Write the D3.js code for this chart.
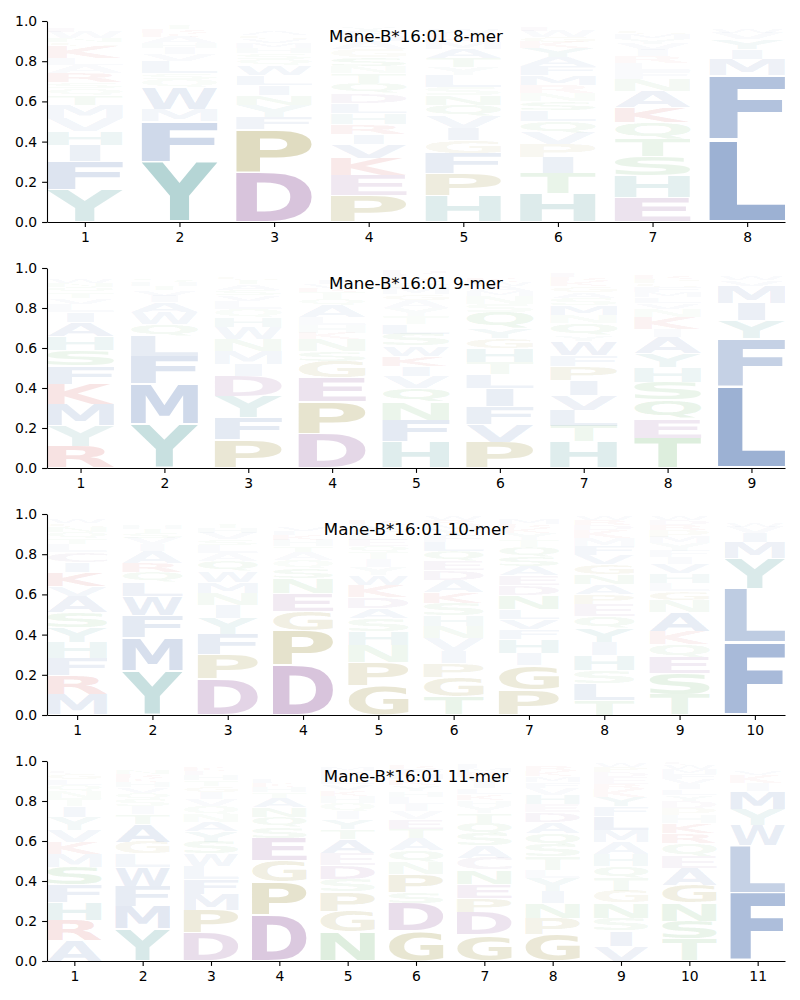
<!DOCTYPE html>
<html><head><meta charset="utf-8">
<script src="https://cdn.jsdelivr.net/npm/d3@7"></script>
<style>body{margin:0;background:#fff}</style>
</head><body>
<svg id="chart" width="800" height="1000"></svg>
<script>
// ---------- data (bottom -> top stacking order, frequency) ----------
const titles = ["Mane-B*16:01 8-mer", "Mane-B*16:01 9-mer", "Mane-B*16:01 10-mer", "Mane-B*16:01 11-mer"];
const yTicks = [0.0, 0.2, 0.4, 0.6, 0.8, 1.0];

const mer8 = [
 [["Y",.16],["F",.14],["I",.08],["H",.07],["V",.065],["M",.065],["T",.05],["Q",.035],["S",.03],["R",.045],["A",.04],["L",.035],["K",.06],["G",.02],["N",.02],["W",.03],["E",.02],["C",.015],["D",.01],["P",.01]],
 [["Y",.30],["F",.20],["M",.06],["W",.11],["Q",.04],["S",.03],["L",.06],["V",.035],["I",.03],["H",.025],["A",.03],["K",.02],["R",.02],["T",.02],["N",.01],["E",.01]],
 [["D",.25],["P",.21],["F",.06],["Y",.06],["N",.05],["I",.05],["L",.05],["W",.05],["Q",.03],["S",.03],["H",.025],["M",.025],["V",.02],["G",.02],["A",.02],["K",.01],["R",.01],["T",.01],["E",.01],["C",.01]],
 [["P",.13],["E",.10],["K",.085],["V",.07],["I",.05],["R",.05],["H",.055],["L",.05],["D",.05],["Q",.05],["T",.05],["N",.035],["S",.045],["G",.04],["A",.04],["M",.025],["F",.025],["Y",.02],["W",.015],["C",.015]],
 [["H",.13],["P",.11],["F",.10],["G",.065],["I",.06],["V",.06],["Q",.055],["N",.05],["S",.04],["L",.06],["Y",.04],["T",.045],["A",.045],["M",.035],["K",.025],["R",.02],["W",.02],["E",.015],["D",.015],["C",.01]],
 [["H",.14],["T",.10],["I",.08],["P",.065],["V",.06],["Q",.055],["L",.055],["S",.045],["N",.04],["R",.04],["M",.05],["F",.045],["A",.045],["Y",.045],["K",.03],["G",.025],["W",.03],["E",.02],["D",.015],["C",.01]],
 [["E",.12],["H",.11],["S",.095],["T",.09],["Q",.08],["K",.075],["A",.08],["N",.06],["F",.04],["L",.04],["R",.035],["I",.03],["V",.03],["Y",.025],["M",.025],["G",.02],["P",.015],["D",.015],["W",.01],["C",.005]],
 [["L",.41],["F",.32],["M",.08],["I",.05],["Y",.05],["V",.03],["W",.02],["H",.015],["A",.015],["K",.01]]
];

const mer9 = [
 [["R",.11],["Y",.10],["M",.11],["K",.10],["F",.09],["S",.08],["H",.07],["A",.07],["I",.05],["L",.04],["V",.03],["T",.03],["Q",.025],["N",.02],["W",.02],["G",.015],["E",.015],["D",.01],["P",.01],["C",.005]],
 [["Y",.22],["M",.20],["F",.14],["L",.10],["Q",.06],["W",.06],["A",.05],["I",.03],["V",.03],["T",.02],["H",.02],["S",.02],["K",.01],["R",.01],["N",.01],["G",.01],["E",.005],["D",.005]],
 [["P",.14],["F",.11],["Y",.11],["D",.10],["I",.06],["M",.065],["N",.06],["W",.06],["H",.05],["Q",.04],["L",.04],["V",.03],["S",.025],["A",.03],["T",.02],["G",.02],["E",.015],["K",.01],["R",.01],["C",.005]],
 [["D",.17],["P",.16],["E",.12],["G",.085],["S",.05],["N",.06],["K",.03],["H",.04],["L",.04],["A",.06],["Q",.03],["T",.035],["R",.02],["V",.02],["I",.02],["M",.015],["F",.015],["Y",.01],["W",.01],["C",.01]],
 [["H",.13],["F",.11],["N",.09],["Q",.07],["V",.06],["I",.05],["K",.05],["W",.05],["S",.06],["L",.05],["T",.04],["Y",.04],["A",.04],["G",.03],["M",.03],["P",.03],["R",.02],["E",.02],["D",.02],["C",.01]],
 [["P",.13],["V",.09],["F",.09],["I",.09],["L",.07],["T",.06],["H",.07],["G",.05],["Y",.05],["Q",.08],["S",.04],["N",.04],["M",.025],["A",.025],["W",.02],["K",.02],["R",.015],["E",.015],["D",.01],["C",.01]],
 [["H",.13],["T",.08],["L",.08],["V",.075],["I",.075],["P",.07],["F",.055],["W",.07],["Y",.03],["Q",.06],["N",.04],["M",.05],["S",.035],["A",.03],["G",.03],["K",.025],["R",.02],["E",.02],["D",.015],["C",.01]],
 [["T",.15],["E",.095],["Q",.095],["S",.09],["H",.075],["Y",.07],["A",.08],["I",.04],["K",.06],["N",.04],["V",.03],["L",.03],["M",.025],["F",.025],["G",.02],["P",.02],["R",.02],["D",.015],["W",.01],["C",.01]],
 [["L",.41],["F",.24],["Y",.09],["I",.085],["M",.085],["V",.03],["W",.02],["H",.015],["A",.015],["K",.01]]
];

const mer10 = [
 [["M",.10],["R",.095],["F",.085],["H",.08],["Y",.075],["S",.075],["A",.08],["V",.05],["K",.07],["I",.05],["C",.05],["L",.04],["T",.03],["Q",.03],["N",.025],["G",.02],["W",.02],["E",.015],["D",.005],["P",.005]],
 [["Y",.22],["M",.165],["F",.11],["W",.095],["L",.07],["Q",.05],["R",.045],["A",.06],["I",.035],["V",.03],["S",.025],["T",.02],["H",.02],["K",.015],["N",.01],["G",.01],["E",.01],["D",.005],["P",.005]],
 [["D",.18],["P",.12],["F",.10],["Y",.08],["I",.065],["N",.06],["M",.055],["W",.055],["Q",.05],["A",.04],["L",.04],["S",.03],["V",.03],["H",.025],["T",.02],["G",.015],["E",.015],["K",.01],["R",.01]],
 [["D",.25],["P",.17],["G",.095],["E",.09],["N",.075],["S",.05],["Q",.04],["A",.04],["T",.03],["H",.03],["K",.025],["L",.02],["V",.02],["I",.015],["Y",.015],["M",.01],["F",.01],["R",.01],["W",.005]],
 [["G",.145],["P",.115],["N",.085],["H",.07],["S",.065],["A",.05],["D",.055],["K",.06],["W",.05],["Y",.04],["I",.04],["T",.035],["Q",.03],["E",.03],["L",.03],["F",.025],["V",.025],["R",.02],["M",.015],["C",.015]],
 [["T",.09],["G",.095],["P",.07],["I",.06],["V",.065],["N",.06],["H",.055],["S",.06],["K",.055],["A",.06],["D",.05],["E",.05],["Q",.045],["L",.045],["F",.03],["Y",.03],["M",.025],["R",.025],["W",.02],["C",.01]],
 [["P",.125],["G",.12],["I",.06],["H",.07],["F",.05],["V",.05],["L",.05],["N",.07],["D",.05],["E",.05],["A",.045],["S",.05],["Q",.045],["T",.035],["Y",.035],["K",.025],["R",.02],["M",.025],["W",.015],["C",.01]],
 [["T",.075],["L",.08],["S",.065],["H",.075],["I",.065],["Y",.07],["Q",.06],["E",.06],["P",.05],["A",.05],["N",.05],["G",.05],["V",.045],["F",.045],["M",.04],["K",.04],["D",.025],["R",.025],["W",.02],["C",.01]],
 [["T",.10],["S",.105],["E",.08],["Q",.065],["K",.065],["A",.095],["N",.06],["G",.045],["L",.04],["H",.05],["V",.045],["I",.035],["F",.03],["Y",.04],["M",.03],["P",.035],["R",.025],["D",.025],["W",.02],["C",.01]],
 [["F",.36],["L",.27],["Y",.15],["M",.08],["I",.045],["V",.03],["W",.02],["H",.015],["A",.01],["K",.01],["C",.01]]
];

const mer11 = [
 [["A",.10],["R",.105],["H",.09],["F",.085],["S",.09],["M",.065],["K",.06],["V",.06],["Y",.065],["I",.055],["T",.04],["N",.035],["Q",.03],["L",.03],["G",.025],["C",.02],["W",.015],["E",.015],["D",.01],["P",.005]],
 [["Y",.16],["M",.115],["F",.10],["W",.095],["L",.065],["G",.06],["A",.09],["T",.05],["I",.04],["S",.035],["Q",.03],["V",.03],["H",.025],["K",.02],["R",.02],["N",.02],["E",.015],["D",.01],["P",.01],["C",.01]],
 [["D",.14],["P",.115],["M",.08],["F",.075],["L",.065],["W",.06],["S",.06],["Y",.055],["A",.045],["N",.04],["Q",.04],["V",.035],["I",.035],["G",.03],["T",.03],["H",.025],["E",.02],["K",.02],["R",.015],["C",.015]],
 [["D",.23],["P",.165],["G",.105],["E",.115],["S",.055],["Q",.05],["N",.05],["A",.045],["T",.03],["H",.025],["K",.02],["L",.02],["V",.015],["I",.015],["Y",.015],["F",.01],["M",.01],["R",.01],["W",.01],["C",.005]],
 [["N",.145],["G",.105],["P",.095],["S",.065],["D",.07],["E",.06],["A",.07],["T",.05],["Y",.05],["I",.04],["Q",.04],["H",.035],["K",.03],["V",.03],["L",.025],["F",.02],["R",.02],["M",.02],["W",.015],["C",.015]],
 [["G",.15],["D",.14],["S",.055],["P",.09],["N",.06],["Q",.06],["A",.06],["T",.045],["E",.05],["V",.04],["I",.035],["L",.035],["H",.03],["Y",.03],["K",.03],["M",.025],["F",.025],["R",.02],["W",.01],["C",.01]],
 [["G",.13],["D",.115],["P",.07],["E",.07],["N",.07],["C",.06],["A",.06],["S",.06],["Q",.055],["T",.05],["Y",.035],["H",.03],["K",.03],["L",.03],["I",.03],["V",.025],["R",.025],["M",.02],["F",.02],["W",.015]],
 [["G",.135],["P",.08],["N",.075],["I",.06],["Y",.065],["L",.04],["T",.065],["S",.06],["Q",.06],["A",.055],["D",.05],["E",.04],["H",.045],["V",.035],["F",.03],["M",.03],["K",.025],["R",.025],["W",.015],["C",.01]],
 [["V",.075],["I",.075],["S",.065],["N",.075],["G",.06],["T",.065],["Q",.06],["H",.06],["A",.06],["M",.06],["L",.07],["F",.05],["Y",.045],["K",.04],["R",.025],["E",.035],["D",.025],["P",.025],["W",.02],["C",.01]],
 [["T",.11],["S",.09],["N",.09],["G",.09],["A",.085],["E",.06],["Q",.065],["R",.05],["K",.05],["H",.04],["P",.035],["D",.035],["Y",.03],["L",.03],["I",.025],["V",.025],["F",.025],["M",.025],["W",.02],["C",.02]],
 [["F",.34],["L",.24],["W",.10],["Y",.08],["M",.09],["I",.04],["K",.04],["V",.02],["H",.015],["A",.015],["R",.01],["C",.005],["Q",.005]]
];

// ---------- styles ----------
const colorOf = {
  A:"#4C72B0", C:"#8a6a9a", F:"#4C72B0", I:"#4C72B0", L:"#4C72B0", M:"#4C72B0", V:"#4C72B0", W:"#4C72B0",
  Y:"#489797", H:"#489797",
  D:"#8B5097", E:"#8B5097",
  P:"#908222", G:"#908222",
  K:"#C83C3C", R:"#C83C3C",
  S:"#5AAA5A", T:"#5AAA5A", N:"#5AAA5A", Q:"#5AAA5A"
};
const alphaOf = f => Math.min(1, f * 1.35);

const panels = [
  {title: titles[0], data: mer8,  top: 21,  bottom: 222},
  {title: titles[1], data: mer9,  top: 268, bottom: 468},
  {title: titles[2], data: mer10, top: 514, bottom: 715},
  {title: titles[3], data: mer11, top: 761, bottom: 961}
];
const LEFT = 47, RIGHT = 785;

// glyph ink metrics
const FONT_PX = 200;
const ctx = document.createElement("canvas").getContext("2d");
ctx.font = `bold ${FONT_PX}px "DejaVu Sans"`;
const inkCache = {};
function ink(c) {
  if (!inkCache[c]) {
    const m = ctx.measureText(c);
    inkCache[c] = {l: m.actualBoundingBoxLeft, r: m.actualBoundingBoxRight,
                   a: m.actualBoundingBoxAscent, d: m.actualBoundingBoxDescent};
  }
  return inkCache[c];
}
const refE = ink("E"); const refW = (refE.l + refE.r) * 0.9;

const svg = d3.select("#chart");

panels.forEach(p => {
  const n = p.data.length;
  const x = d3.scaleLinear().domain([0.6, n + 0.4]).range([LEFT, RIGHT]);
  const y = d3.scaleLinear().domain([0, 1]).range([p.bottom, p.top]);
  const g = svg.append("g");

  p.data.forEach((col, i) => {
    const pos = i + 1;
    let cum = 0;
    col.forEach(([c, f]) => {
      const m = ink(c);
      const iw = m.l + m.r, ih = m.a + m.d;
      const pad = f * 0.025;
      const yt = y(cum + f - pad), yb = y(cum + pad);
      const bw = x(pos + 0.4) - x(pos - 0.4);
      const gw = bw * Math.min(1, iw / refW);
      const x0 = x(pos) - gw / 2;
      g.append("text")
        .attr("font-family", "DejaVu Sans")
        .attr("font-weight", "bold")
        .attr("font-size", FONT_PX)
        .attr("fill", colorOf[c])
        .attr("fill-opacity", alphaOf(f))
        .attr("transform", `translate(${x0},${yt}) scale(${gw / iw},${(yb - yt) / ih}) translate(${m.l},${m.a})`)
        .text(c);
      cum += f;
    });
  });

  const yAxis = d3.axisLeft(y).tickValues(yTicks).tickFormat(d3.format(".1f"))
    .tickSize(4.9).tickSizeOuter(0).tickPadding(4.9);
  const xAxis = d3.axisBottom(x).tickValues(d3.range(1, n + 1)).tickFormat(d3.format("d"))
    .tickSize(4.9).tickSizeOuter(0).tickPadding(4.9);

  const ya = svg.append("g").attr("transform", `translate(${LEFT},0)`).call(yAxis);
  const xa = svg.append("g").attr("transform", `translate(0,${p.bottom})`).call(xAxis);
  [ya, xa].forEach(a => {
    a.selectAll("text").attr("font-family", "DejaVu Sans").attr("font-size", 13.9).attr("fill", "#000");
    a.selectAll("line").attr("stroke", "#000").attr("stroke-width", 1.1);
    a.select(".domain").attr("stroke", "#000").attr("stroke-width", 1.1);
  });

  svg.append("text")
    .attr("x", (LEFT + RIGHT) / 2).attr("y", p.top + 21)
    .attr("text-anchor", "middle")
    .attr("font-family", "DejaVu Sans").attr("font-size", 16.67).attr("fill", "#000")
    .text(p.title);
});
</script>
</body></html>
